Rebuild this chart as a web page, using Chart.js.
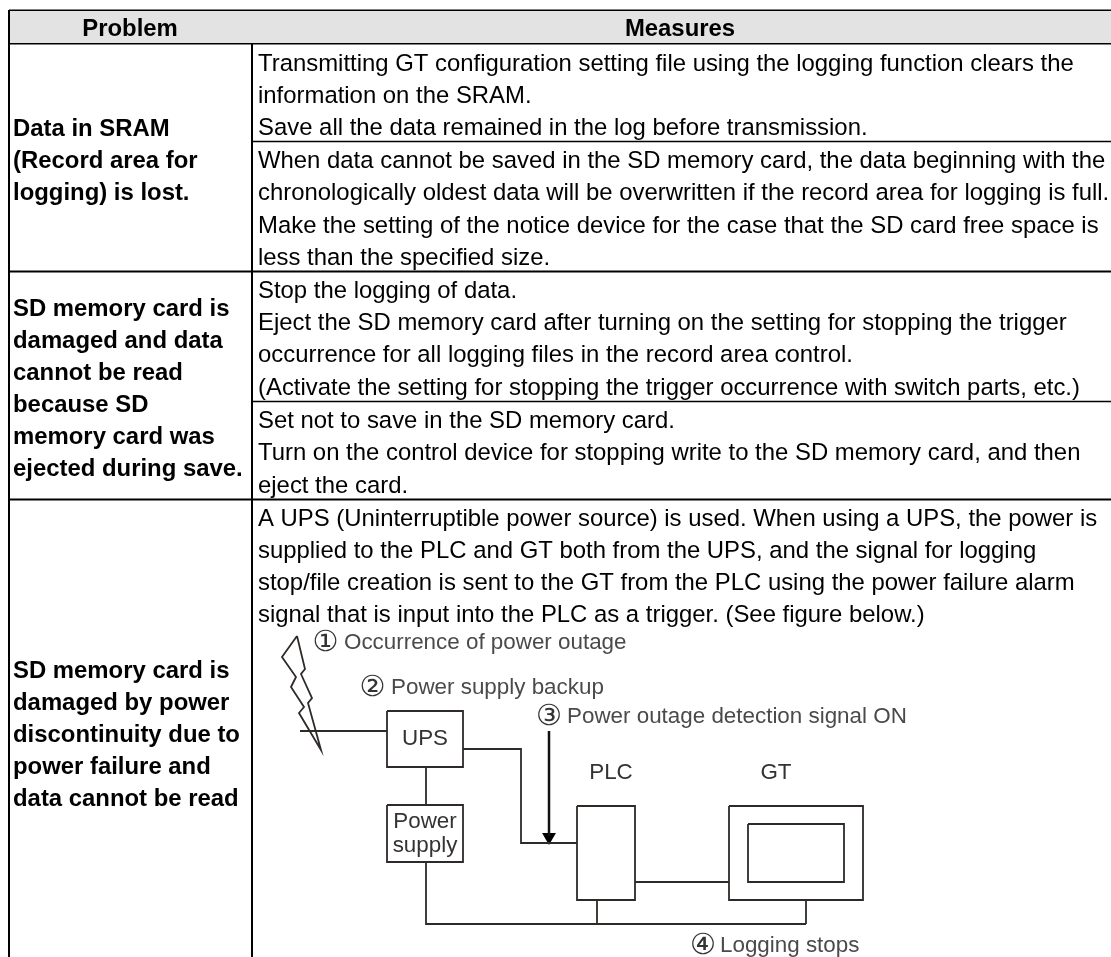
<!DOCTYPE html>
<html>
<head>
<meta charset="utf-8">
<title>Problem and measures</title>
<script src="https://cdn.jsdelivr.net/npm/chart.js@4"></script>
<style>
  html, body { margin: 0; padding: 0; background: #fff; }
  #sheet { display: block; }
</style>
</head>
<body>
<canvas id="sheet" width="1111" height="957"></canvas>
<script>
// Table text
const headerLabels = ["Problem", "Measures"];
const problemLines = [
  "Data in SRAM", "(Record area for", "logging) is lost.",
  "SD memory card is", "damaged and data", "cannot be read", "because SD", "memory card was", "ejected during save.",
  "SD memory card is", "damaged by power", "discontinuity due to", "power failure and", "data cannot be read"
];
const problemRows = [129, 161, 193, 309, 341, 373, 405, 437, 469, 671, 703, 735, 767, 799];
const measureLines = [
  "Transmitting GT configuration setting file using the logging function clears the",
  "information on the SRAM.",
  "Save all the data remained in the log before transmission.",
  "When data cannot be saved in the SD memory card, the data beginning with the",
  "chronologically oldest data will be overwritten if the record area for logging is full.",
  "Make the setting of the notice device for the case that the SD card free space is",
  "less than the specified size.",
  "Stop the logging of data.",
  "Eject the SD memory card after turning on the setting for stopping the trigger",
  "occurrence for all logging files in the record area control.",
  "(Activate the setting for stopping the trigger occurrence with switch parts, etc.)",
  "Set not to save in the SD memory card.",
  "Turn on the control device for stopping write to the SD memory card, and then",
  "eject the card.",
  "A UPS (Uninterruptible power source) is used. When using a UPS, the power is",
  "supplied to the PLC and GT both from the UPS, and the signal for logging",
  "stop/file creation is sent to the GT from the PLC using the power failure alarm",
  "signal that is input into the PLC as a trigger. (See figure below.)"
];
const measureRows = [64, 96, 128, 161, 193, 226, 258, 291, 323, 355, 388, 421, 453, 486, 519, 551, 583, 615];

// Figure labels
const figureMarks = ["①", "②", "③", "④"];
const figureMarkX = [325.5, 372.5, 549, 703];
const figureLabels = ["Occurrence of power outage", "Power supply backup", "Power outage detection signal ON", "Logging stops"];
const figureLabelX = [344, 391, 567, 720];
const figureLabelY = [643, 688, 717, 946];
const boxLabels = ["UPS", "Power", "supply", "PLC", "GT"];
const boxLabelX = [425, 425, 425, 611, 776];
const boxLabelY = [739, 822, 846, 773, 773];

// Table rules, as [x1, y1, x2, y2]
const heavyRules = [
  [9, 10.5, 1111, 10.5],
  [9, 43.5, 1111, 43.5],
  [9, 271.5, 1111, 271.5],
  [9, 499.5, 1111, 499.5],
  [9, 10, 9, 957],
  [252, 10, 252, 957]
];
const lightRules = [
  [252, 141.5, 1111, 141.5],
  [252, 401.5, 1111, 401.5]
];

// Figure wiring, each one a polyline
const figureLines = [
  [[297, 636], [282, 657], [296, 677], [291, 687], [304, 707], [299, 713], [321, 750], [308, 703], [312, 698], [301, 674], [305, 669], [297, 636]],
  [[300, 731], [387, 731]],
  [[387, 711], [463, 711], [463, 767], [387, 767], [387, 711]],
  [[463, 749], [521, 749], [521, 843], [577, 843]],
  [[426, 767], [426, 805]],
  [[387, 805], [463, 805], [463, 862], [387, 862], [387, 805]],
  [[426, 862], [426, 924], [806, 924]],
  [[577, 806], [635, 806], [635, 900], [577, 900], [577, 806]],
  [[597, 900], [597, 924]],
  [[635, 882], [729, 882]],
  [[729, 806], [863, 806], [863, 900], [729, 900], [729, 806]],
  [[748, 824], [844, 824], [844, 882], [748, 882], [748, 824]],
  [[806, 900], [806, 924]]
];
const signalArrow = [[549, 731], [549, 836]];
const signalArrowHead = [[549, 837]];

function toPoints(seg) {
  return [{ x: seg[0], y: seg[1] }, { x: seg[2], y: seg[3] }];
}

function lineSet(points, color, width) {
  return {
    type: "scatter",
    data: points,
    showLine: true,
    borderColor: color,
    borderWidth: width,
    pointRadius: 0,
    tension: 0,
    fill: false
  };
}

const datasets = [];

// Header band
datasets.push({
  type: "scatter",
  data: toPoints([10, 11, 1111, 11]),
  showLine: true,
  borderWidth: 0,
  pointRadius: 0,
  backgroundColor: "#e3e3e3",
  fill: { value: 43 }
});

heavyRules.forEach((r) => datasets.push(lineSet(toPoints(r), "#000", 2)));
lightRules.forEach((r) => datasets.push(lineSet(toPoints(r), "#000", 1.5)));
figureLines.forEach((l) =>
  datasets.push(lineSet(l.map((p) => ({ x: p[0], y: p[1] })), "#2e2a28", 1.8))
);
datasets.push(lineSet(signalArrow.map((p) => ({ x: p[0], y: p[1] })), "#111", 2.5));
datasets.push({
  type: "scatter",
  data: signalArrowHead.map((p) => ({ x: p[0], y: p[1] })),
  pointStyle: "triangle",
  rotation: 180,
  pointRadius: 8,
  backgroundColor: "#000",
  borderWidth: 0
});

// Texts go through the same scales as the lines
const textPlugin = {
  id: "sheetText",
  afterDatasetsDraw(chart) {
    const { ctx, scales } = chart;
    const put = (text, x, y, font, color, align) => {
      ctx.font = font;
      ctx.fillStyle = color;
      ctx.textAlign = align;
      ctx.textBaseline = "middle";
      ctx.fillText(text, scales.x.getPixelForValue(x), scales.y.getPixelForValue(y));
    };
    ctx.save();
    const bold = "bold 23.9px 'Liberation Sans', Arial, sans-serif";
    const plain = "23.9px 'Liberation Sans', Arial, sans-serif";
    const small = "22.4px 'Liberation Sans', Arial, sans-serif";
    const mark = "29px 'DejaVu Sans', sans-serif";
    put(headerLabels[0], 130, 29, bold, "#000", "center");
    put(headerLabels[1], 680, 29, bold, "#000", "center");
    problemLines.forEach((t, i) => put(t, 13, problemRows[i], bold, "#000", "left"));
    measureLines.forEach((t, i) => put(t, 258, measureRows[i], plain, "#000", "left"));
    figureMarks.forEach((t, i) => put(t, figureMarkX[i], figureLabelY[i], mark, "#333", "center"));
    figureLabels.forEach((t, i) => put(t, figureLabelX[i], figureLabelY[i], small, "#4a4a4a", "left"));
    boxLabels.forEach((t, i) => put(t, boxLabelX[i], boxLabelY[i], small, "#333", "center"));
    ctx.restore();
  }
};

new Chart(document.getElementById("sheet"), {
  type: "scatter",
  data: { datasets },
  plugins: [textPlugin],
  options: {
    responsive: false,
    animation: false,
    layout: { padding: 0, autoPadding: false },
    plugins: {
      legend: { display: false },
      tooltip: { enabled: false }
    },
    scales: {
      x: { type: "linear", display: false, min: 0, max: 1111 },
      y: { type: "linear", display: false, min: 0, max: 957, reverse: true }
    }
  }
});
</script>
</body>
</html>
